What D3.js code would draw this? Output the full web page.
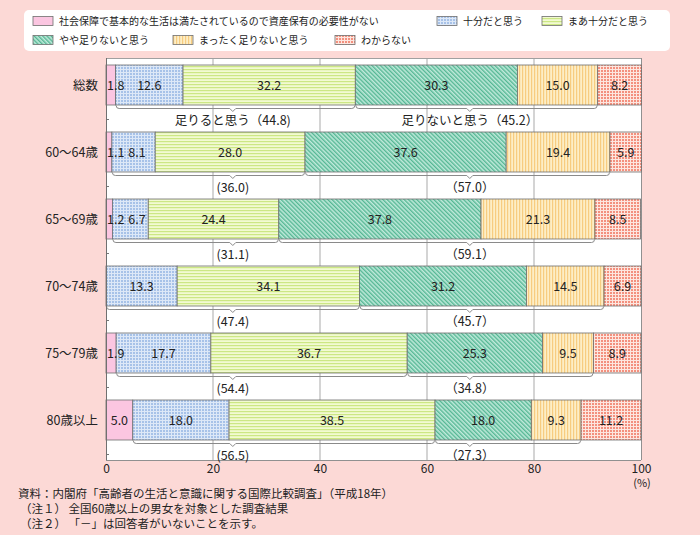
<!DOCTYPE html>
<html><head><meta charset="utf-8">
<script src="https://cdn.jsdelivr.net/npm/d3@7"></script>
<style>
html,body{margin:0;padding:0;background:#fcd9d6;}
text{font-family:"Noto Sans CJK JP","Noto Sans",sans-serif;fill:#222;}
</style></head>
<body>
<svg id="chart" width="700" height="535"></svg>
<script>
const categories = ["総数","60～64歳","65～69歳","70～74歳","75～79歳","80歳以上"];
const seriesNames = ["社会保障で基本的な生活は満たされているので資産保有の必要性がない","十分だと思う","まあ十分だと思う","やや足りないと思う","まったく足りないと思う","わからない"];
const social        = [1.8, 1.1, 1.2, 0,    1.9, 5.0];
const enough        = [12.6, 8.1, 6.7, 13.3, 17.7, 18.0];
const fairlyEnough  = [32.2, 28.0, 24.4, 34.1, 36.7, 38.5];
const slightlyShort = [30.3, 37.6, 37.8, 31.2, 25.3, 18.0];
const notAtAll      = [15.0, 19.4, 21.3, 14.5, 9.5, 9.3];
const unknown       = [8.2, 5.9, 8.5, 6.9, 8.9, 11.2];
const sufficientTotal   = [44.8, 36.0, 31.1, 47.4, 54.4, 56.5];
const insufficientTotal = [45.2, 57.0, 59.1, 45.7, 34.8, 27.3];
const xTicks = [0, 20, 40, 60, 80, 100];
const footnotes = [
  "資料：内閣府「高齢者の生活と意識に関する国際比較調査」（平成18年）",
  "（注１） 全国60歳以上の男女を対象とした調査結果",
  "（注２） 「－」は回答者がいないことを示す。"
];

const series = [social, enough, fairlyEnough, slightlyShort, notAtAll, unknown];

const svg = d3.select("#chart");
const defs = svg.append("defs");

function pat(id, w, h, base, draw, transform) {
  const p = defs.append("pattern").attr("id", id).attr("patternUnits", "userSpaceOnUse")
    .attr("width", w).attr("height", h);
  if (transform) p.attr("patternTransform", transform);
  p.append("rect").attr("width", w).attr("height", h).attr("fill", base);
  draw(p);
}
pat("p0", 4, 4, "#fbc6e1", () => {});
pat("p1", 3, 3, "#a7c2e8", p => {
  p.append("rect").attr("x", 0).attr("y", 0).attr("width", 3).attr("height", 1).attr("fill", "#dde8f7");
  p.append("rect").attr("x", 0).attr("y", 0).attr("width", 1).attr("height", 3).attr("fill", "#dde8f7");
});
pat("p2", 3, 3, "#f2fad2", p => {
  p.append("rect").attr("x", 0).attr("y", 0).attr("width", 3).attr("height", 1.2).attr("fill", "#cce784");
});
pat("p3", 3, 3, "#c0eadb", p => {
  p.append("rect").attr("x", 0).attr("y", 0).attr("width", 1.4).attr("height", 3).attr("fill", "#55b794");
}, "rotate(-45)");
pat("p4", 3, 3, "#fdeec6", p => {
  p.append("rect").attr("x", 0).attr("y", 0).attr("width", 1.2).attr("height", 3).attr("fill", "#f7cc80");
});
pat("p5", 3, 3, "#f3907e", p => {
  p.append("rect").attr("x", 0).attr("y", 0).attr("width", 3).attr("height", 1).attr("fill", "#fde6df");
  p.append("rect").attr("x", 0).attr("y", 0).attr("width", 1).attr("height", 3).attr("fill", "#fde6df");
});
const fills = ["url(#p0)","url(#p1)","url(#p2)","url(#p3)","url(#p4)","url(#p5)"];
const strokeCol = "#6e6e6e";

svg.append("rect").attr("x", 24).attr("y", 10).attr("width", 646).attr("height", 41)
  .attr("rx", 5).attr("fill", "#fff");
const legendPos = [
  {x: 33, y: 21}, {x: 437, y: 21}, {x: 542, y: 21},
  {x: 33, y: 40}, {x: 173, y: 40}, {x: 335, y: 40}
];
seriesNames.forEach((name, i) => {
  const g = svg.append("g").attr("transform", `translate(${legendPos[i].x},${legendPos[i].y})`);
  g.append("rect").attr("x", 0).attr("y", -4.5).attr("width", 20).attr("height", 9)
    .attr("fill", fills[i]).attr("stroke", strokeCol).attr("stroke-width", 0.8);
  g.append("text").attr("x", 26).attr("y", 4).attr("font-size", 10).text(name);
});

const pL = 106, pR = 641, pT = 58, pB = 460;
const x = d3.scaleLinear().domain([0, 100]).range([pL, pR]);
const y = d3.scaleBand().domain(categories).range([pT, pB]).paddingInner(0).paddingOuter(0);
const barOffset = 7, barH = 40;

svg.append("rect").attr("x", pL).attr("y", pT).attr("width", pR - pL).attr("height", pB - pT)
  .attr("fill", "#fff");
svg.append("g").selectAll("line").data(xTicks.slice(1, -1)).join("line")
  .attr("x1", d => x(d)).attr("x2", d => x(d)).attr("y1", pT).attr("y2", pB)
  .attr("stroke", "#a9a9a9").attr("stroke-width", 1);
svg.append("line").attr("x1", pL).attr("x2", pR).attr("y1", pT + 0.5).attr("y2", pT + 0.5)
  .attr("stroke", "#a0a0a0");
svg.append("line").attr("x1", pR + 0.5).attr("x2", pR + 0.5).attr("y1", pT).attr("y2", pB)
  .attr("stroke", "#909090");
svg.append("line").attr("x1", pL).attr("x2", pR).attr("y1", pB + 0.5).attr("y2", pB + 0.5)
  .attr("stroke", "#909090");

categories.forEach((cat, r) => {
  const by = y(cat) + barOffset;
  let cum = 0;
  const segs = series.map((s, i) => {
    const seg = {i, v: s[r], x0: cum, x1: cum + s[r]};
    cum += s[r];
    return seg;
  });
  const g = svg.append("g");
  g.selectAll("rect").data(segs.filter(d => d.v > 0)).join("rect")
    .attr("x", d => x(d.x0)).attr("y", by)
    .attr("width", d => x(d.x1) - x(d.x0)).attr("height", barH)
    .attr("fill", d => fills[d.i]).attr("stroke", strokeCol).attr("stroke-width", 0.8);

  const labels = segs.filter(d => d.v > 0).map(d => {
    const t = g.append("text").attr("font-size", 12.5).attr("text-anchor", "middle")
      .attr("y", by + barH / 2 + 4.5).text(d.v.toFixed(1));
    return {t, cx: (x(d.x0) + x(d.x1)) / 2, w: t.node().getComputedTextLength()};
  });
  let prevRight = pL + 1;
  labels.forEach(l => {
    let lx = l.cx - l.w / 2;
    if (lx < prevRight) lx = prevRight;
    l.t.attr("x", lx + l.w / 2);
    prevRight = lx + l.w + 4;
  });

  const bb = by + barH;
  const groups = [
    {a: segs[1].x0, b: segs[2].x1, note: 23.7,
     txt: r === 0 ? `足りると思う（${sufficientTotal[r].toFixed(1)})` : `(${sufficientTotal[r].toFixed(1)})`},
    {a: segs[3].x0, b: segs[4].x1, note: 68.0,
     txt: r === 0 ? `足りないと思う（${insufficientTotal[r].toFixed(1)}）` : `（${insufficientTotal[r].toFixed(1)}）`}
  ];
  groups.forEach(gr => {
    const xa = x(gr.a) + 0.5, xb = x(gr.b) - 0.5, xn = x(gr.note), ly = bb + 3.5;
    const path = `M${xa},${bb + 0.5} Q${xa},${ly} ${xa + 3},${ly} L${xn - 3},${ly} L${xn},${ly + 3} L${xn + 3},${ly} L${xb - 3},${ly} Q${xb},${ly} ${xb},${bb + 0.5}`;
    svg.append("path").attr("d", path).attr("fill", "none").attr("stroke", "#8a8a8a").attr("stroke-width", 1);
    svg.append("text").attr("x", xn).attr("y", bb + 20).attr("text-anchor", "middle")
      .attr("font-size", 12.5).text(gr.txt);
  });
  svg.append("line").attr("x1", pL).attr("x2", pL + 3).attr("y1", bb + 14.5).attr("y2", bb + 14.5)
    .attr("stroke", "#777");

  svg.append("text").attr("x", pL - 8).attr("y", by + barH / 2 + 5).attr("text-anchor", "end")
    .attr("font-size", 12.5).text(cat);
});

svg.append("line").attr("x1", pL + 0.5).attr("x2", pL + 0.5).attr("y1", pT).attr("y2", pB)
  .attr("stroke", "#707070");

const xAxis = d3.axisBottom(x).tickValues(xTicks).tickSize(0).tickPadding(4).tickFormat(d3.format("d"));
const ax = svg.append("g").attr("transform", `translate(0,${pB})`).call(xAxis);
ax.select(".domain").remove();
ax.selectAll("text").attr("font-size", 12).attr("fill", "#222")
  .attr("font-family", '"Noto Sans CJK JP","Noto Sans",sans-serif');
svg.append("text").attr("x", x(100) + 1).attr("y", 487).attr("text-anchor", "middle").attr("font-size", 11).text("(%)");

footnotes.forEach((f, i) => {
  svg.append("text").attr("x", i === 0 ? 18 : 20).attr("y", 498 + i * 15).attr("font-size", 11.5).text(f);
});
</script>
</body></html>
